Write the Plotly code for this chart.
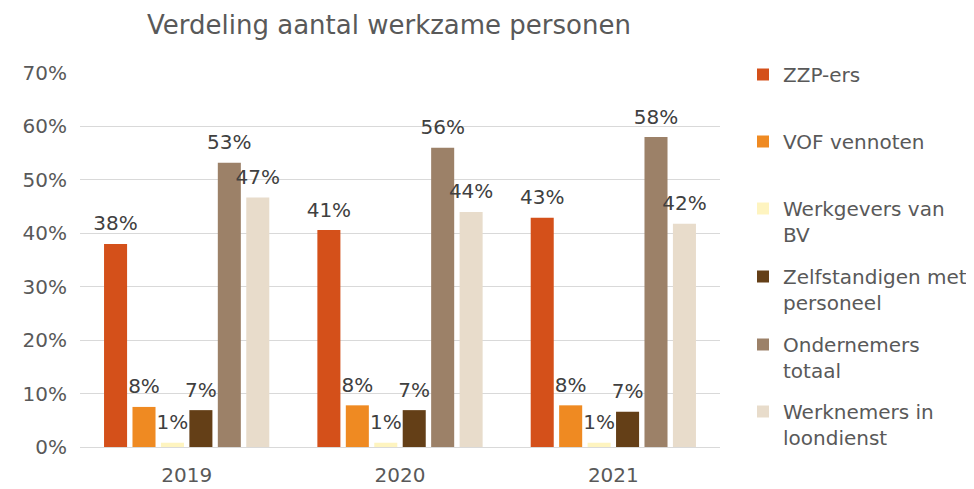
import plotly.graph_objects as go

years = ["2019", "2020", "2021"]
series_names = ["ZZP-ers", "VOF vennoten", "Werkgevers van<br>BV", "Zelfstandigen met<br>personeel", "Ondernemers<br>totaal", "Werknemers in<br>loondienst"]
zzp = [0.380, 0.406, 0.429]
vof = [0.075, 0.078, 0.078]
werkgevers = [0.008, 0.008, 0.008]
zelfstandigen = [0.069, 0.069, 0.066]
ondernemers = [0.532, 0.560, 0.580]
werknemers = [0.467, 0.440, 0.418]
colors = ["#D4501A", "#EF8A22", "#FEF4C0", "#643F17", "#9C8168", "#E8DCCB"]

values = [zzp, vof, werkgevers, zelfstandigen, ondernemers, werknemers]
FONT = "Verdana, DejaVu Sans, sans-serif"
W, H = 966, 481  # page adds 8px body margin

fig = go.Figure()
legend_tops = [47, 114, 181, 249, 317, 384]
for i, (name, vals, col) in enumerate(zip(series_names, values, colors)):
    lname = "legend" if i == 0 else f"legend{i+1}"
    fig.add_trace(go.Bar(
        x=years, y=vals, name=name, marker_color=col,
        marker_line_width=0, offsetgroup=str(i),
        legend=lname,
    ))
for i, vals in enumerate(values):
    fig.add_trace(go.Scatter(
        x=years, y=vals, mode="markers+text", offsetgroup=str(i),
        marker=dict(size=12, opacity=0),
        text=[f"{int(v * 100 + 0.5)}%" for v in vals], textposition="top center",
        textfont=dict(size=20, color="#404040", family=FONT),
        showlegend=False, hoverinfo="skip", cliponaxis=False,
    ))

layout_legends = {}
for i, top in enumerate(legend_tops):
    lname = "legend" if i == 0 else f"legend{i+1}"
    layout_legends[lname] = dict(
        x=735 / W, y=1 - top / H, xref="container", yref="container",
        xanchor="left", yanchor="top", valign="top",
        font=dict(size=20, color="#595959", family=FONT),
        bgcolor="rgba(0,0,0,0)", borderwidth=0,
    )

fig.update_layout(
    width=W, height=H,
    margin=dict(l=72, r=254, t=65, b=42, autoexpand=False),
    paper_bgcolor="white", plot_bgcolor="white",
    barmode="group", bargap=0.2, bargroupgap=0.19,
    scattermode="group", scattergap=0.2,
    title=dict(text="Verdeling aantal werkzame personen", x=381 / W, xanchor="center",
               y=1 - 17 / H, yanchor="middle",
               font=dict(size=26, color="#595959", family=FONT)),
    font=dict(family=FONT, color="#595959"),
    showlegend=True,
    **layout_legends,
)
fig.update_yaxes(range=[0, 0.7], dtick=0.1, tickformat=".0%",
                 showgrid=True, gridcolor="#D9D9D9", gridwidth=1,
                 zeroline=False, showline=False, ticks="", ticklabelstandoff=12,
                 tickfont=dict(size=20, color="#595959", family=FONT))
fig.update_xaxes(showline=True, linecolor="#D9D9D9", linewidth=1, ticks="",
                 ticklabelstandoff=10,
                 tickfont=dict(size=20, color="#595959", family=FONT))

fig.write_html("out.html")
